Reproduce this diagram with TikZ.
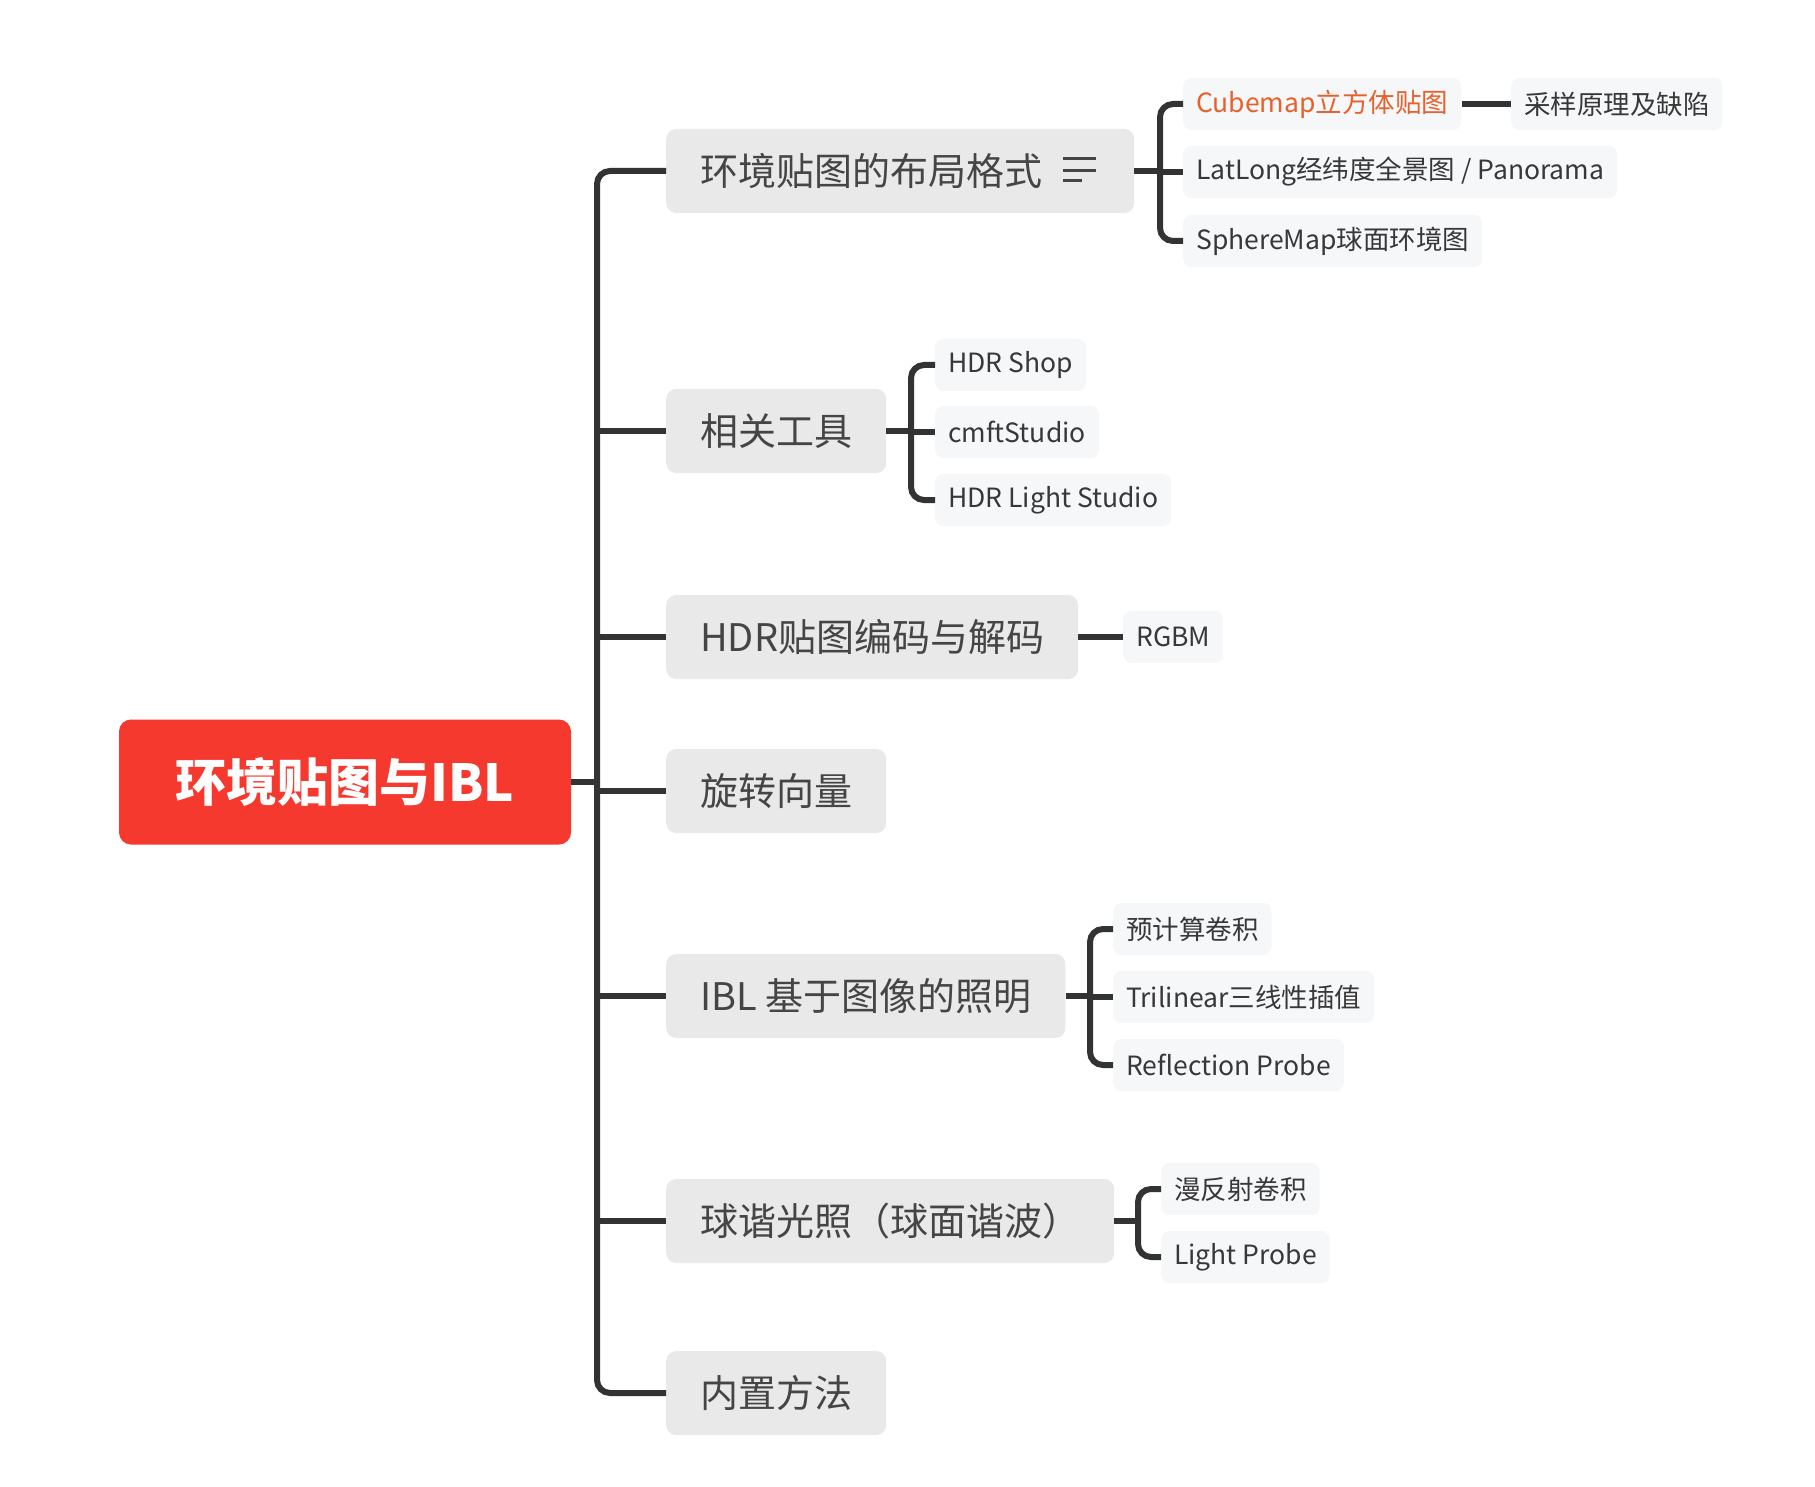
\documentclass[tikz,border=0pt]{standalone}
\usepackage{fontspec}
\setmainfont{Noto Sans CJK SC}
\usepackage{xcolor}
\usepackage{tikz}
\definecolor{rootred}{HTML}{F5392E}
\definecolor{topicgray}{HTML}{E9E9EA}
\definecolor{topictext}{HTML}{454545}
\definecolor{subfill}{HTML}{F6F7F9}
\definecolor{subtext}{HTML}{383838}
\definecolor{linecol}{HTML}{333333}
\definecolor{hotorange}{HTML}{E8612C}

\begin{document}
\begin{tikzpicture}[x=1pt,y=-1pt,
  rootbox/.style={rounded corners=12,fill=rootred,text=white,font=\bfseries\fontsize{51}{56}\selectfont,minimum width=452,minimum height=125},
  topic/.style={rounded corners=10,fill=topicgray,text=topictext,font=\fontsize{38}{44}\selectfont,minimum height=84,inner xsep=34,anchor=west},
  sub/.style={rounded corners=8,fill=subfill,text=subtext,font=\fontsize{26.5}{30}\selectfont,minimum height=52,inner xsep=13,anchor=west},
  link/.style={line width=6,draw=linecol,rounded corners=13},
]
\useasboundingbox (0,0) rectangle (1815,1487);
\node[rootbox](root) at(345,782){环境贴图与IBL};
\node[topic,text width=400,align=left](lay) at(666,171){环境贴图的布局格式};
\node[topic](tool) at(666,431){相关工具};
\node[topic](hdr) at(666,637){HDR贴图编码与解码};
\node[topic](rot) at(666,791){旋转向量};
\node[topic](ibl) at(666,996){IBL 基于图像的照明};
\node[topic](sh) at(666,1221){球谐光照（球面谐波）};
\node[topic](bin) at(666,1393){内置方法};
\node[sub,text=hotorange](cube) at(1183,104){Cubemap立方体贴图};
\node[sub](samp) at(1511,104){采样原理及缺陷};
\node[sub](lat) at(1183,172){LatLong经纬度全景图 / Panorama};
\node[sub](sphere) at(1183,241){SphereMap球面环境图};
\node[sub](shop) at(935,365){HDR Shop};
\node[sub](cmft) at(935,432){cmftStudio};
\node[sub](light) at(935,500){HDR Light Studio};
\node[sub](rgbm) at(1123,637){RGBM};
\node[sub](pre) at(1113,929){预计算卷积};
\node[sub](tri) at(1113,997){Trilinear三线性插值};
\node[sub](refl) at(1113,1065){Reflection Probe};
\node[sub](diff) at(1161,1189){漫反射卷积};
\node[sub](probe) at(1161,1257){Light Probe};
\draw[line width=3,draw=topictext]
  ([shift={(-71,-12)}]lay.east)--++(33,0) ([shift={(-71,0)}]lay.east)--++(33,0)
  ([shift={(-71,10)}]lay.east)--++(19,0);
\coordinate(tr) at(597,782); \coordinate(b1) at(1160,172);
\coordinate(b2) at(911,432); \coordinate(b5) at(1090,997); \coordinate(b6) at(1138,1221);
\draw[link](root.east)--(tr); \draw[link](lay.west)-|(tr)|-(bin.west);
\draw[link](tr|-tool.west)--(tool.west); \draw[link](tr|-hdr.west)--(hdr.west);
\draw[link](tr|-rot.west)--(rot.west); \draw[link](tr|-ibl.west)--(ibl.west);
\draw[link](tr|-sh.west)--(sh.west);
\draw[link](lay.east)--(b1|-lay.east); \draw[link](cube.west)-|(b1)|-(sphere.west);
\draw[link](b1)--(lat.west); \draw[link](cube.east)--(samp.west);
\draw[link](tool.east)--(b2|-tool.east); \draw[link](shop.west)-|(b2)|-(light.west);
\draw[link](b2)--(cmft.west);
\draw[link](hdr.east)--(rgbm.west);
\draw[link](ibl.east)--(b5|-ibl.east); \draw[link](pre.west)-|(b5)|-(refl.west);
\draw[link](b5)--(tri.west);
\draw[link](sh.east)--(b6|-sh.east); \draw[link](diff.west)-|(b6)|-(probe.west);
\end{tikzpicture}
\end{document}
